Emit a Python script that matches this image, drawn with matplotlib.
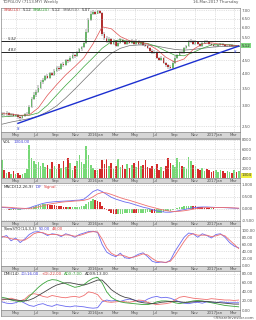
import numpy as np
import pandas as pd
import matplotlib
matplotlib.use("Agg")
import matplotlib.pyplot as plt
import matplotlib.dates as mdates
from matplotlib.ticker import FixedLocator, NullLocator, FixedFormatter

W, H = 256, 320
FT = 2.9

# ---- data (weekly) ----
weeks = pd.date_range(end="2017-03-16", periods=105, freq="7D")

opens = [2.76, 2.80, 2.78, 2.82, 2.76, 2.79, 2.74, 2.77, 2.72, 2.70, 2.74, 2.78,
         2.80, 2.98, 3.20, 3.30, 3.40, 3.52, 3.70, 3.78,
         3.90, 3.85, 4.00, 3.95, 4.10, 4.20, 4.15, 4.35, 4.30, 4.50, 4.45, 4.60, 4.70, 4.65, 4.85, 4.95, 5.05,
         5.25, 5.80, 6.40,
         6.80, 6.90, 6.80, 6.95,
         6.85,
         5.70, 5.50, 5.30, 5.45, 5.20, 5.35, 5.10, 5.25, 5.40, 5.30, 5.20, 5.35,
         5.25, 5.35, 5.20, 5.35, 5.20, 5.30, 5.15, 5.10,
         5.00, 4.90, 4.80, 4.85, 4.60, 4.50, 4.60, 4.40, 4.30, 4.25,
         4.20, 4.40, 4.60, 4.70, 4.85, 4.80, 5.00, 5.10, 5.30, 5.35,
         5.20, 5.30, 5.20, 5.10, 5.25, 5.35, 5.30, 5.20, 5.15, 5.10, 5.10, 5.15, 5.20, 5.15, 5.10, 5.12, 5.15, 5.10, 5.10, 5.08]
closes = [2.80, 2.78, 2.82, 2.76, 2.79, 2.74, 2.77, 2.72, 2.70, 2.74, 2.78, 2.80,
          2.98, 3.20, 3.30, 3.40, 3.52, 3.70, 3.78, 3.90,
          3.85, 4.00, 3.95, 4.10, 4.20, 4.15, 4.35, 4.30, 4.50, 4.45, 4.60, 4.70, 4.65, 4.85, 4.95, 5.05, 5.25,
          5.80, 6.40, 6.80,
          6.90, 6.80, 6.95, 6.85,
          5.70,
          5.50, 5.30, 5.45, 5.20, 5.35, 5.10, 5.25, 5.40, 5.30, 5.20, 5.35, 5.25,
          5.35, 5.20, 5.35, 5.20, 5.30, 5.15, 5.10, 5.00,
          4.90, 4.80, 4.85, 4.60, 4.50, 4.60, 4.40, 4.30, 4.25, 4.20,
          4.40, 4.60, 4.70, 4.85, 4.80, 5.00, 5.10, 5.30, 5.35, 5.20,
          5.30, 5.20, 5.10, 5.25, 5.35, 5.30, 5.20, 5.15, 5.10, 5.10, 5.15, 5.20, 5.15, 5.10, 5.12, 5.15, 5.10, 5.10, 5.08, 5.12]
highs = [2.84, 2.83, 2.86, 2.84, 2.82, 2.82, 2.80, 2.80, 2.76, 2.77, 2.81, 2.85,
         3.02, 3.26, 3.38, 3.46, 3.60, 3.76, 3.85, 3.96,
         3.98, 4.06, 4.05, 4.16, 4.28, 4.26, 4.40, 4.42, 4.56, 4.56, 4.66, 4.78, 4.76, 4.90, 5.02, 5.12, 5.35,
         5.95, 6.55, 6.95,
         7.05, 6.98, 7.05, 7.00,
         6.90,
         5.80, 5.58, 5.52, 5.50, 5.42, 5.40, 5.30, 5.48, 5.45, 5.35, 5.40, 5.38,
         5.42, 5.40, 5.42, 5.40, 5.35, 5.34, 5.20, 5.14,
         5.04, 4.95, 4.92, 4.88, 4.64, 4.66, 4.64, 4.44, 4.36, 4.30,
         4.46, 4.66, 4.76, 4.90, 4.90, 5.05, 5.15, 5.36, 5.42, 5.40,
         5.36, 5.34, 5.24, 5.30, 5.40, 5.40, 5.34, 5.24, 5.20, 5.15, 5.18, 5.24, 5.22, 5.18, 5.16, 5.18, 5.18, 5.14, 5.13, 5.15]
lows = [2.72, 2.75, 2.75, 2.73, 2.73, 2.71, 2.71, 2.68, 2.62, 2.67, 2.72, 2.76,
        2.78, 2.95, 3.16, 3.26, 3.36, 3.48, 3.64, 3.74,
        3.80, 3.82, 3.90, 3.92, 4.05, 4.10, 4.12, 4.25, 4.26, 4.40, 4.42, 4.55, 4.60, 4.62, 4.80, 4.90, 5.00,
        5.20, 5.75, 6.35,
        6.72, 6.70, 6.75, 6.78,
        5.60,
        5.40, 5.22, 5.26, 5.15, 5.15, 5.05, 5.05, 5.20, 5.24, 5.15, 5.15, 5.18,
        5.20, 5.15, 5.16, 5.15, 5.15, 5.10, 5.04, 4.95,
        4.85, 4.75, 4.76, 4.55, 4.45, 4.46, 4.35, 4.25, 4.18, 4.15,
        4.18, 4.36, 4.55, 4.66, 4.75, 4.76, 4.95, 5.05, 5.25, 5.15,
        5.15, 5.14, 5.05, 5.06, 5.20, 5.25, 5.15, 5.10, 5.06, 5.05, 5.06, 5.12, 5.12, 5.06, 5.06, 5.08, 5.08, 5.05, 5.04, 5.05]
volume = [3800, 1500, 900, 1100, 800, 1300, 700, 900, 600, 800, 1000, 1800,
          6900, 4200, 3500, 2800, 3300, 2500, 3000, 2200,
          2600, 1800, 3400, 2400, 1900, 2900, 2000, 3600, 2300, 4200, 3000, 1700, 2500, 3600, 4800, 3200, 2800,
          6700, 4800, 2600, 2000, 1600, 1500, 1800,
          3700, 2800, 3900, 2400, 3000, 1800, 2500, 4000, 2200, 2600, 1900, 2800, 2100,
          2600, 3000, 2300, 3500, 2400, 2700, 3700, 2200,
          2000, 2500, 1800, 2900, 1600, 2200, 1400, 2400, 4200, 3000,
          2600, 2200, 4100, 3200, 2500, 2300, 1800, 4400, 3500, 2600,
          2400, 1900, 1600, 2100, 1300, 1800, 1500, 1200, 1400, 1700, 1100, 1500, 1300, 1000, 1400, 1200, 900, 1500, 1100, 1304]

# moving averages, read every 4 weeks
ma_idx = list(range(0, 105, 4))
ma_fast = [2.80, 2.79, 2.76, 2.77, 2.95, 3.30, 3.62, 3.95, 4.25, 4.60, 5.20, 6.05, 5.95, 5.55,
           5.35, 5.28, 5.20, 4.95, 4.62, 4.42, 4.55, 4.95, 5.20, 5.25, 5.18, 5.14, 5.12]
ma_mid = [2.72, 2.74, 2.75, 2.76, 2.82, 3.02, 3.30, 3.60, 3.90, 4.25, 4.60, 5.00, 5.30, 5.40,
          5.30, 5.28, 5.22, 5.08, 4.88, 4.70, 4.68, 4.82, 5.00, 5.15, 5.20, 5.16, 5.12]
ma_slow = [2.55, 2.60, 2.64, 2.68, 2.74, 2.85, 3.00, 3.22, 3.48, 3.78, 4.10, 4.45, 4.78, 5.00,
           5.12, 5.15, 5.15, 5.10, 5.02, 4.95, 4.92, 4.95, 5.00, 5.05, 5.08, 5.08, 5.07]

trend_dates = ["2015-05-07", "2017-03-16"]
trend_prices = [2.57, 5.10]
hlines = [5.32, 4.83]

# indicators, read every 2 weeks
ind_idx = list(range(0, 105, 2))
macd_dif = [0.05, 0.04, 0.02, 0.00, -0.01, 0.00, 0.03, 0.10, 0.16, 0.22, 0.26, 0.28, 0.30, 0.31,
            0.32, 0.33, 0.35, 0.36, 0.40, 0.55, 0.72, 0.80, 0.72, 0.60, 0.48, 0.40, 0.34, 0.28,
            0.24, 0.18, 0.12, 0.06, 0.02, -0.04, -0.10, -0.13, -0.15, -0.15, -0.12, -0.08, -0.04,
            0.00, 0.04, 0.06, 0.07, 0.07, 0.06, 0.05, 0.05, 0.04, 0.03, 0.02, 0.01]
macd_sig = [0.07, 0.06, 0.05, 0.03, 0.02, 0.01, 0.01, 0.03, 0.07, 0.12, 0.17, 0.21, 0.24, 0.27,
            0.29, 0.30, 0.32, 0.33, 0.35, 0.40, 0.50, 0.62, 0.68, 0.66, 0.60, 0.53, 0.46, 0.40,
            0.35, 0.29, 0.23, 0.17, 0.11, 0.06, 0.01, -0.04, -0.08, -0.11, -0.12, -0.11, -0.09,
            -0.06, -0.02, 0.01, 0.03, 0.05, 0.05, 0.05, 0.05, 0.05, 0.04, 0.03, 0.02]
macd_hist = [-0.03, -0.03, -0.03, -0.04, -0.04, -0.05, -0.05, -0.04, -0.04, -0.03, -0.02, -0.01,
             0.02, 0.05, 0.08, 0.11, 0.14, 0.16, 0.18, 0.19,
             0.18, 0.17, 0.15, 0.14, 0.12, 0.10, 0.09, 0.07, 0.06, 0.06, 0.05, 0.06, 0.06, 0.07, 0.08, 0.10, 0.12,
             0.20, 0.28, 0.34, 0.40, 0.38, 0.34, 0.28,
             0.12,
             0.02, -0.06, -0.12, -0.18, -0.22, -0.24, -0.24, -0.22, -0.22, -0.20, -0.20, -0.19,
             -0.18, -0.19, -0.20, -0.20, -0.19, -0.18, -0.17, -0.16,
             -0.16, -0.18, -0.20, -0.20, -0.18, -0.17, -0.15, -0.12, -0.10, -0.08,
             -0.04, 0.00, 0.04, 0.06, 0.08, 0.10, 0.11, 0.12, 0.12, 0.10,
             0.09, 0.08, 0.06, 0.05, 0.04, 0.03, 0.02, 0.02, 0.01, 0.00, 0.00, 0.00, -0.01, -0.01,
             -0.01, -0.02, -0.02, -0.02, -0.02, -0.02]
stoch_k = [80, 85, 70, 78, 65, 75, 88, 95, 96, 92, 85, 90, 88, 82, 90, 86, 80, 88, 92, 96, 97, 94,
           60, 38, 30, 25, 35, 22, 20, 25, 32, 36, 25, 12, 8, 10, 8, 15, 40, 60, 80, 92, 90, 80,
           90, 85, 78, 88, 90, 80, 65, 55, 50]
stoch_d = [82, 80, 76, 74, 72, 72, 80, 90, 94, 93, 88, 88, 88, 85, 87, 86, 83, 85, 89, 94, 96, 95,
           75, 50, 35, 28, 30, 27, 22, 24, 28, 33, 30, 20, 12, 10, 9, 12, 28, 48, 68, 85, 90, 86,
           86, 86, 82, 84, 88, 84, 72, 60, 48]
dmi_minus = [18, 15, 14, 16, 20, 15, 10, 8, 12, 14, 10, 8, 12, 10, 8, 7, 9, 8, 7, 5, 4, 5,
             18, 22, 20, 21, 19, 22, 24, 22, 20, 18, 24, 28, 30, 27, 28, 26, 22, 18, 15, 14,
             16, 17, 15, 18, 17, 16, 18, 17, 16, 16, 16]
dmi_plus = [22, 24, 26, 23, 20, 24, 33, 36, 34, 30, 28, 32, 30, 28, 27, 29, 30, 28, 32, 40, 38, 34,
            22, 18, 17, 18, 19, 18, 17, 19, 22, 21, 17, 14, 12, 13, 14, 16, 22, 28, 30, 28,
            26, 25, 24, 23, 25, 24, 23, 22, 22, 21, 22]
adx = [28, 26, 22, 20, 18, 20, 30, 40, 50, 58, 64, 67, 66, 62, 58, 54, 50, 52, 56, 64, 70, 72,
       60, 40, 28, 22, 18, 16, 15, 14, 13, 12, 12, 14, 18, 20, 20, 19, 16, 14, 16, 18,
       20, 21, 20, 18, 16, 14, 12, 10, 9, 8, 7]
adxr = [24, 24, 23, 22, 21, 20, 22, 26, 32, 38, 44, 50, 55, 58, 60, 60, 58, 56, 55, 58, 62, 66,
        66, 56, 45, 38, 32, 28, 26, 22, 18, 16, 15, 14, 15, 17, 18, 19, 19, 18, 17, 17,
        18, 19, 19, 19, 18, 17, 16, 15, 14, 13, 13]

month_dates = ["2015-05-01", "2015-07-01", "2015-09-01", "2015-11-01", "2016-01-01", "2016-03-01",
               "2016-05-01", "2016-07-01", "2016-09-01", "2016-11-01", "2017-01-01", "2017-03-01"]
month_labels = ["May", "Jul", "Sep", "Nov", "2016Jan", "Mar", "May", "Jul", "Sep", "Nov", "2017Jan", "Mar"]

# ---- colours ----
GREEN = "#77d977"
RED = "#d42a2a"
GRID = "#c8c8c8"
TXT = "#555555"

x = mdates.date2num(weeks)
xi = x[ind_idx]
xm = x[ma_idx]
mx = mdates.date2num(pd.to_datetime(month_dates))
x0 = mdates.date2num(pd.Timestamp("2015-03-16"))
x1 = mdates.date2num(pd.Timestamp("2017-03-20"))
up = [c >= o for o, c in zip(opens, closes)]
cols = [GREEN if u else RED for u in up]

fig = plt.figure(figsize=(W / 100, H / 100), dpi=100)
fig.patch.set_facecolor("white")


def rect(top, bottom, left=1, right=240):
    return [left / W, 1 - bottom / H, (right - left) / W, (bottom - top) / H]


def panel(top, bottom):
    ax = fig.add_axes(rect(top, bottom))
    ax.set_xlim(x0, x1)
    ax.set_xticks(mx)
    ax.tick_params(axis="x", length=0, labelbottom=False)
    ax.yaxis.tick_right()
    ax.tick_params(axis="y", length=0, labelsize=FT, colors=TXT, pad=1.2)
    ax.grid(True, color=GRID, lw=0.4, ls=(0, (2, 2)))
    for s in ax.spines.values():
        s.set_color("#888888")
        s.set_linewidth(0.5)
    # month strip under the panel
    st = fig.add_axes(rect(bottom, bottom + 5.5))
    st.set_facecolor("#d6d6d6")
    st.set_xlim(x0, x1)
    st.set_xticks([])
    st.set_yticks([])
    for s in st.spines.values():
        s.set_color("#888888")
        s.set_linewidth(0.5)
    for d, lab in zip(mx, month_labels):
        st.text(d, 0.45, lab, fontsize=FT, color=TXT, ha="center", va="center",
                transform=st.get_xaxis_transform())
    return ax


def legend(ax, y, parts, x=0.01):
    t = ax.text(x, y, parts[0][0], color=parts[0][1], fontsize=FT, transform=ax.transAxes,
                ha="left", va="center")
    for s, c in parts[1:]:
        t = ax.annotate(s, xy=(1, 0.5), xycoords=t, xytext=(1.5, 0), textcoords="offset points",
                        color=c, fontsize=FT, ha="left", va="center", annotation_clip=False)


def tag(ax, y, s, fc, trans=None):
    ax.text(1.006, y, s, transform=trans or ax.get_yaxis_transform(), fontsize=FT,
            color="#333333", ha="left", va="center",
            bbox=dict(boxstyle="square,pad=0.12", fc=fc, ec="none"))


# ---- price panel ----
ax = panel(8, 132)
ax.set_yscale("log")
ax.set_ylim(2.38, 7.15)
pt = [2.5, 3.0, 3.5, 4.0, 4.5, 5.5, 6.0, 6.5, 7.0]
ax.yaxis.set_major_locator(FixedLocator(pt))
ax.yaxis.set_major_formatter(FixedFormatter([f"{p:.2f}" for p in pt]))
ax.yaxis.set_minor_locator(NullLocator())
ax.plot(xm, ma_slow, color="#707070", lw=0.5)
ax.plot(xm, ma_mid, color="#3aa53a", lw=0.5)
ax.plot(xm, ma_fast, color="#e05050", lw=0.5)
ax.vlines(x, lows, highs, color="#444444", lw=0.35)
body = [abs(c - o) if abs(c - o) > 0.02 else 0.02 for o, c in zip(opens, closes)]
ax.bar(x, body, bottom=[min(o, c) for o, c in zip(opens, closes)], width=5, color=cols,
       edgecolor="none")
for h in hlines:
    ax.axhline(h, color="#222222", lw=0.7)
    ax.text(0.03, h * 1.005, f"{h:.2f}", transform=ax.get_yaxis_transform(), fontsize=FT,
            style="italic", color="#333333", va="bottom")
td = mdates.date2num(pd.to_datetime(trend_dates))
ax.plot(td, trend_prices, color="#1c2fd0", lw=1.0)
ax.text(td[0], trend_prices[0] * 0.97, "S", color="#1c2fd0", fontsize=FT, style="italic",
        ha="center", va="top")
ax.text(td[1] - 10, trend_prices[1] * 0.97, "S", color="#1c2fd0", fontsize=FT, style="italic",
        ha="center", va="top")
tag(ax, closes[-1], f"{closes[-1]:.2f}", "#7fd77f")
fig.text(2 / W, 1 - 2.5 / H, "TOPGLOV (7113.MY) Weekly", fontsize=FT, color=TXT, va="center")
fig.text(238 / W, 1 - 2.5 / H, "16-Mar-2017 Thursday", fontsize=FT, color=TXT, va="center",
         ha="right")
legend(ax, 0.985, [("SMA(10)", "#e05050"), (f"{ma_fast[-1]:.2f}", "#333333"),
                   ("SMA(20)", "#3aa53a"), (f"{ma_mid[-1]:.2f}", "#333333"),
                   ("SMA(50)", "#707070"), (f"{ma_slow[-1]:.2f}", "#333333")])

# ---- volume ----
av = panel(138.5, 177.5)
av.bar(x, volume, width=5, color=cols, edgecolor="none")
av.set_ylim(0, 8300)
av.set_yticks([2000, 4000, 6000, 8000])
av.set_yticklabels(["2000", "4000", "6000", "8000"])
tag(av, 0.06, f"{volume[-1]}", "#f0f040", trans=av.transAxes)
legend(av, 0.9, [("VOL", "#333333"), (f"{volume[-1]:.2f}", "#4444dd")])

# ---- MACD ----
am = panel(183, 220.5)
hc = [GREEN] + [GREEN if macd_hist[i] >= macd_hist[i - 1] else RED for i in range(1, len(macd_hist))]
am.bar(x, macd_hist, width=5, color=hc, edgecolor="none")
am.plot(xi, macd_dif, color="#6a6af0", lw=0.6)
am.plot(xi, macd_sig, color="#f07070", lw=0.6)
am.set_ylim(-0.47, 1.08)
am.set_yticks([-0.5, 0.0, 0.5, 1.0])
am.set_yticklabels(["-0.500", "0.000", "0.500", "1.000"])
legend(am, 0.9, [("MACD(12,26,9)", "#333333"), ("DIF", "#4444dd"), ("Signal", "#dd4444")])

# ---- stochastic ----
ast = panel(226, 265.5)
ast.plot(xi, stoch_k, color="#6a6af0", lw=0.6)
ast.plot(xi, stoch_d, color="#f07070", lw=0.6)
ast.set_ylim(0, 112)
ast.set_yticks([0, 20, 40, 60, 80, 100])
ast.set_yticklabels(["0.00", "20.00", "40.00", "60.00", "80.00", "100.00"])
legend(ast, 0.93, [("SlowSTO(14,3,3)", "#333333"), (f"{stoch_k[-1]:.2f}", "#4444dd"),
                   (f"{stoch_d[-1]:.2f}", "#dd4444")])

# ---- DMI ----
ad = panel(271, 310)
ad.plot(xi, dmi_minus, color="#6a6af0", lw=0.6)
ad.plot(xi, dmi_plus, color="#f07070", lw=0.6)
ad.plot(xi, adx, color="#3aa53a", lw=0.6)
ad.plot(xi, adxr, color="#444444", lw=0.6)
ad.set_ylim(0, 86)
ad.set_yticks([0, 20, 40, 60, 80])
ad.set_yticklabels(["0.00", "20.00", "40.00", "60.00", "80.00"])
legend(ad, 0.93, [("DMI(14)", "#333333"), (f"-DI:{dmi_minus[-1]:.2f}", "#4444dd"),
                  (f"+DI:{dmi_plus[-1]:.2f}", "#dd4444"), (f"ADX:{adx[-1]:.2f}", "#3aa53a"),
                  (f"ADXR:{adxr[-1]:.2f}", "#444444")])

fig.text(254 / W, 1 - 318 / H, "©ShareInvestor.com", fontsize=FT, color=TXT, ha="right", va="center")

fig.savefig("out.png", dpi=100)
